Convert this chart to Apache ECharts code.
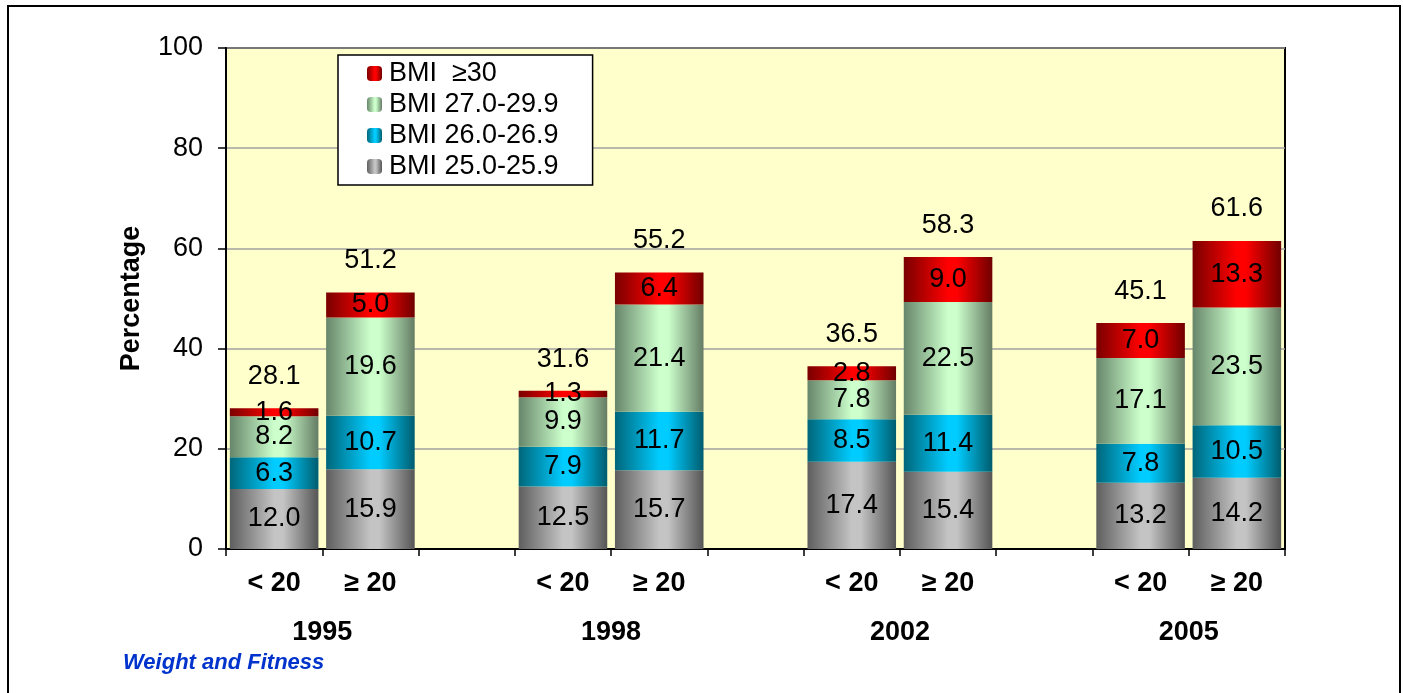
<!DOCTYPE html>
<html>
<head>
<meta charset="utf-8">
<script src="https://cdn.jsdelivr.net/npm/echarts@6/dist/echarts.min.js"></script>
<style>
html,body{margin:0;padding:0;background:#fff;}
#chart{width:1403px;height:693px;}
</style>
</head>
<body>
<div id="chart"></div>
<script>
// ---- data ----
const categories = ['< 20', '\u2265 20', '', '< 20', '\u2265 20', '', '< 20', '\u2265 20', '', '< 20', '\u2265 20'];
const yearLabels = {1: '1995', 4: '1998', 7: '2002', 10: '2005'};
const seriesNames = ['BMI 25.0-25.9', 'BMI 26.0-26.9', 'BMI 27.0-29.9', 'BMI  \u226530'];
const bmi25 = [12.0, 15.9, null, 12.5, 15.7, null, 17.4, 15.4, null, 13.2, 14.2];
const bmi26 = [6.3, 10.7, null, 7.9, 11.7, null, 8.5, 11.4, null, 7.8, 10.5];
const bmi27 = [8.2, 19.6, null, 9.9, 21.4, null, 7.8, 22.5, null, 17.1, 23.5];
const bmi30 = [1.6, 5.0, null, 1.3, 6.4, null, 2.8, 9.0, null, 7.0, 13.3];
const totals = [28.1, 51.2, null, 31.6, 55.2, null, 36.5, 58.3, null, 45.1, 61.6];
const yTicks = [0, 20, 40, 60, 80, 100];

const FONT = '"Liberation Sans", Arial, sans-serif';
const FS = 27;
function grad(edgeL, mid, edgeR) {
  return {
    type: 'linear', x: 0, y: 0, x2: 1, y2: 0,
    colorStops: [
      {offset: 0, color: edgeL},
      {offset: 0.5, color: mid},
      {offset: 0.6, color: mid},
      {offset: 1, color: edgeR}
    ]
  };
}
const fills = [
  grad('#5e5e5e', '#c4c4c4', '#555555'),
  grad('#00667a', '#00ccff', '#005c6e'),
  grad('#67866a', '#ccffcc', '#647c64'),
  grad('#7a0000', '#ff0000', '#700000')
];
const seriesData = [bmi25, bmi26, bmi27, bmi30];

const chart = echarts.init(document.getElementById('chart'), null, {renderer: 'canvas'});

const barSeries = seriesData.map((d, i) => ({
  name: seriesNames[i],
  type: 'bar',
  stack: 'bmi',
  barWidth: '92%',
  data: d,
  itemStyle: {color: fills[i]},
  label: {
    show: true, position: 'inside', color: '#000',
    fontFamily: FONT, fontSize: FS,
    formatter: p => p.value == null ? '' : p.value.toFixed(1)
  },
  emphasis: {disabled: true}
}));

const option = {
  animation: false,
  backgroundColor: '#ffffff',
  grid: {
    left: 226, right: 118, top: 48, bottom: 144,
    show: true, backgroundColor: '#FFFFCC', borderColor: '#000', borderWidth: 2
  },
  legend: {
    data: ['BMI  \u226530', 'BMI 27.0-29.9', 'BMI 26.0-26.9', 'BMI 25.0-25.9'],
    orient: 'vertical',
    left: 338, top: 55,
    backgroundColor: '#ffffff',
    borderColor: '#000', borderWidth: 1.5,
    padding: [3, 34, 3, 29],
    itemWidth: 15, itemHeight: 15, itemGap: 0,
    textStyle: {fontFamily: FONT, fontSize: FS, color: '#000', lineHeight: 31, padding: [0, 0, 0, 2]},
    selectedMode: false
  },
  xAxis: [{
    type: 'category',
    data: categories,
    axisLine: {lineStyle: {color: '#000', width: 2}},
    axisTick: {show: true, interval: 0, length: 7, lineStyle: {color: '#000', width: 1.5}},
    axisLabel: {interval: 0, margin: 21, color: '#000', fontFamily: FONT, fontSize: FS, fontWeight: 'bold'},
    splitLine: {show: false}
  }, {
    type: 'value',
    position: 'bottom',
    min: 0, max: 11, interval: 1,
    axisLine: {show: false}, axisTick: {show: false}, splitLine: {show: false},
    axisLabel: {
      margin: 70, color: '#000', fontFamily: FONT, fontSize: FS, fontWeight: 'bold',
      showMinLabel: true, showMaxLabel: true,
      formatter: v => yearLabels[v] || ''
    }
  }],
  yAxis: {
    type: 'value', min: 0, max: 100, interval: 20,
    name: 'Percentage', nameLocation: 'middle', nameGap: 81, nameRotate: 90,
    nameTextStyle: {fontFamily: FONT, fontSize: FS, fontWeight: 'bold', color: '#000'},
    axisLine: {show: true, lineStyle: {color: '#000', width: 2}},
    axisTick: {show: true, length: 8, lineStyle: {color: '#000', width: 1.5}},
    axisLabel: {margin: 23, color: '#000', fontFamily: FONT, fontSize: FS,
      formatter: v => yTicks.indexOf(v) >= 0 ? String(v) : ''},
    splitLine: {show: true, lineStyle: {color: '#a0a0a0', width: 1.5}}
  },
  series: barSeries.concat([{
    name: 'total',
    type: 'scatter',
    data: totals,
    symbolSize: 0,
    itemStyle: {color: '#000', opacity: 1},
    label: {
      show: true, position: 'top', distance: 18, color: '#000',
      fontFamily: FONT, fontSize: FS,
      formatter: p => p.value == null ? '' : p.value.toFixed(1)
    },
    emphasis: {disabled: true},
    z: 5
  }]),
  graphic: [{
    type: 'rect',
    shape: {x: 8, y: 6, width: 1392, height: 700},
    style: {fill: 'none', stroke: '#000', lineWidth: 2},
    silent: true, z: 100
  }, {
    type: 'text',
    left: 123, top: 652,
    style: {
      text: 'Weight and Fitness', fill: '#0033cc',
      font: 'italic bold 22px ' + FONT
    },
    z: 100
  }]
};
chart.setOption(option);
</script>
</body>
</html>
